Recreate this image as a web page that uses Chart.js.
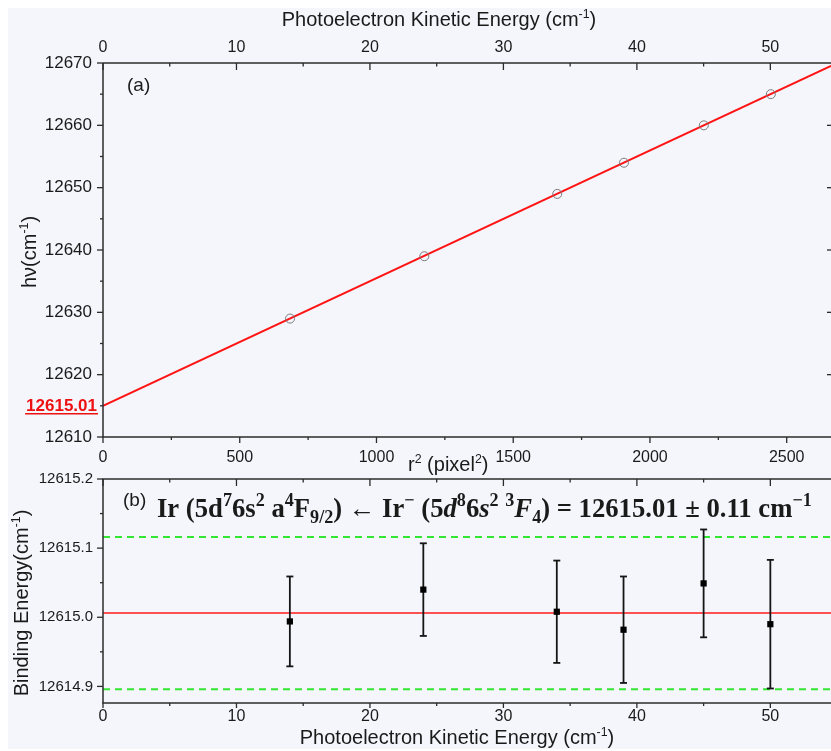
<!DOCTYPE html>
<html>
<head>
<meta charset="utf-8">
<script src="https://cdn.jsdelivr.net/npm/chart.js@4.4.1/dist/chart.umd.min.js"></script>
<style>
  html, body { margin: 0; padding: 0; background: #ffffff; }
  #page { position: absolute; left: 0; top: 0; width: 831px; height: 751px; overflow: hidden; }
  #bg { position: absolute; left: 8px; top: 8px; width: 823px; height: 741px; background: #f5f6fc; }
  #c1 { position: absolute; left: 0; top: 0; }
  #c2 { position: absolute; left: 0; top: 460px; }
</style>
</head>
<body>
<div id="page">
  <div id="bg"></div>
  <canvas id="c1" width="831" height="480"></canvas>
  <canvas id="c2" width="831" height="291"></canvas>
</div>
<script>
// ---- (a) photon energy versus squared ring radius ----
const r2Pixels     = [684, 1175, 1661, 1905, 2197, 2442];
const photonEnergy = [12629, 12639, 12649, 12654, 12660, 12665];
const fitR2        = [0, 2662];
const fitPhoton    = [12615.006, 12669.55];
const keSlope      = 0.02049;          // cm-1 of kinetic energy per pixel^2
const r2Range      = [0, 2662];
const hvRange      = [12610, 12670];
const r2Ticks      = [0, 500, 1000, 1500, 2000, 2500];
const r2Minor      = [250, 750, 1250, 1750, 2250];
const hvTicks      = [12610, 12620, 12630, 12640, 12650, 12660, 12670];
const hvMinor      = [12615, 12625, 12635, 12645, 12655, 12665];

// ---- (b) binding energy versus photoelectron kinetic energy ----
const kineticEnergy = [14, 24, 34, 39, 45, 50];
const bindingEnergy = [12614.994, 12615.040, 12615.008, 12614.982, 12615.049, 12614.990];
const bindingError  = [0.065, 0.067, 0.074, 0.077, 0.078, 0.093];
const eaMean        = 12615.006;
const eaUnc         = 0.11;
const keRange       = [0, r2Range[1] * keSlope];
const beRange       = [12614.876, 12615.2];
const keTicks       = [0, 10, 20, 30, 40, 50];
const keMinor       = [5, 15, 25, 35, 45];
const beTicks       = [12614.9, 12615.0, 12615.1, 12615.2];
const beMinor       = [12614.95, 12615.05, 12615.15];

const SANS = "'Liberation Sans', Arial, Helvetica, sans-serif";
const SERIF = "'Liberation Serif', 'Times New Roman', 'DejaVu Serif', serif";
const INK = '#1a1a1a';
const AXIS = '#2b2b2b';

Chart.defaults.font.family = SANS;
Chart.defaults.color = INK;

// text runs with superscripts / subscripts; y is the baseline
function richText(ctx, segs, x, y, size, opt) {
  opt = opt || {};
  let cx = x;
  for (const s of segs) {
    const script = s.sup || s.sub;
    const sz = script ? size * (opt.scriptScale || 0.62) : size;
    const style = s.italic ? 'italic ' : '';
    const weight = s.weight || opt.weight || 'normal';
    ctx.font = `${style}${weight} ${sz}px ${opt.family || SANS}`;
    const dy = s.sup ? -size * 0.42 : (s.sub ? size * 0.22 : 0);
    if (opt.draw !== false) ctx.fillText(s.t, cx, y + dy);
    cx += ctx.measureText(s.t).width;
  }
  return cx - x;
}
function richCentered(ctx, segs, cx, baseline, size, opt) {
  const w = richText(ctx, segs, 0, 0, size, Object.assign({}, opt, {draw: false}));
  richText(ctx, segs, cx - w / 2, baseline, size, opt);
}
function richVertical(ctx, segs, cx, cy, size, opt) {
  const w = richText(ctx, segs, 0, 0, size, Object.assign({}, opt, {draw: false}));
  ctx.save();
  ctx.translate(cx, cy);
  ctx.rotate(-Math.PI / 2);
  richText(ctx, segs, -w / 2, size * 0.36, size, opt);
  ctx.restore();
}

// axis frame line segments and tick marks
function hLine(ctx, x0, x1, y) { ctx.beginPath(); ctx.moveTo(x0, y); ctx.lineTo(x1, y); ctx.stroke(); }
function vLine(ctx, x, y0, y1) { ctx.beginPath(); ctx.moveTo(x, y0); ctx.lineTo(x, y1); ctx.stroke(); }
function hTicks(ctx, scale, values, y, len) {
  for (const v of values) { const px = scale.getPixelForValue(v); vLine(ctx, px, y, y + len); }
}
function vTicks(ctx, scale, values, x, len) {
  for (const v of values) { const py = scale.getPixelForValue(v); hLine(ctx, x, x + len, py); }
}

const noGrid = { display: false, drawTicks: false };
const noBorder = { display: false };
const fixedTicks = values => scale => { scale.ticks = values.map(v => ({ value: v })); };

const frameA = {
  id: 'frameA',
  afterDraw(chart) {
    const { ctx, chartArea: a, scales } = chart;
    ctx.save();
    ctx.strokeStyle = AXIS;
    ctx.lineWidth = 1.5;
    hLine(ctx, a.left, a.right, a.top);
    hLine(ctx, a.left - 0.75, a.right, a.bottom);
    vLine(ctx, a.left, a.top, a.bottom);
    ctx.lineWidth = 1.3;
    hTicks(ctx, scales.x, r2Ticks, a.bottom, 6);
    hTicks(ctx, scales.x, r2Minor, a.bottom, 3);
    hTicks(ctx, scales.x2, keTicks, a.top, 7);
    hTicks(ctx, scales.x2, keMinor, a.top, 3.5);
    vTicks(ctx, scales.y, hvTicks, a.left, -6);
    vTicks(ctx, scales.y, hvMinor, a.left, -3);
    vTicks(ctx, scales.y, hvTicks.slice(1, -1), a.right, -4);

    ctx.fillStyle = INK;
    ctx.textAlign = 'left';
    ctx.textBaseline = 'alphabetic';
    richCentered(ctx, [{t: 'Photoelectron Kinetic Energy (cm'}, {t: '-1', sup: true}, {t: ')'}], 439, 26, 20);
    richText(ctx, [{t: 'r'}, {t: '2', sup: true}, {t: ' (pixel'}, {t: '2', sup: true}, {t: ')'}], 408, 471, 20);
    richVertical(ctx, [{t: 'h\u03bd(cm'}, {t: '-1', sup: true}, {t: ')'}], 29, 252, 20);
    ctx.font = `19px ${SANS}`;
    ctx.fillText('(a)', 127, 91);

    // intercept value at r^2 = 0
    const yi = scales.y.getPixelForValue(fitPhoton[0]);
    const label = eaMean.toFixed(2);
    ctx.font = `bold 17px ${SANS}`;
    ctx.fillStyle = '#ee1111';
    ctx.textAlign = 'right';
    ctx.fillText(label, 97, yi + 5);
    const w = ctx.measureText(label).width;
    ctx.strokeStyle = '#ee1111';
    ctx.lineWidth = 1.5;
    hLine(ctx, 97 - w - 1, 98, yi + 8);
    ctx.restore();
  }
};

new Chart(document.getElementById('c1'), {
  type: 'scatter',
  data: {
    datasets: [
      {
        label: 'hv',
        data: r2Pixels.map((x, i) => ({ x, y: photonEnergy[i] })),
        xAxisID: 'x', yAxisID: 'y',
        pointStyle: 'circle', pointRadius: 4.5,
        pointBorderColor: '#7a7a7a', pointBackgroundColor: 'rgba(0,0,0,0)', pointBorderWidth: 1
      },
      {
        label: 'linear fit',
        type: 'line',
        data: fitR2.map((x, i) => ({ x, y: fitPhoton[i] })),
        xAxisID: 'x', yAxisID: 'y',
        borderColor: '#ff1414', borderWidth: 2, pointRadius: 0, fill: false, tension: 0
      }
    ]
  },
  options: {
    responsive: false, animation: false, events: [],
    layout: { padding: 0, autoPadding: false },
    plugins: { legend: { display: false }, tooltip: { enabled: false } },
    scales: {
      x: {
        type: 'linear', position: 'bottom', min: r2Range[0], max: r2Range[1],
        grid: noGrid, border: noBorder,
        ticks: { padding: 11, font: { size: 16 }, color: INK, callback: v => String(v) },
        afterBuildTicks: fixedTicks(r2Ticks),
        afterFit: s => { s.height = 43; }
      },
      x2: {
        type: 'linear', position: 'top', min: keRange[0], max: keRange[1],
        grid: noGrid, border: noBorder,
        ticks: { padding: 6, font: { size: 16 }, color: INK, callback: v => String(v) },
        afterBuildTicks: fixedTicks(keTicks),
        afterFit: s => { s.height = 63; }
      },
      y: {
        type: 'linear', position: 'left', min: hvRange[0], max: hvRange[1],
        grid: noGrid, border: noBorder,
        ticks: { padding: 11, font: { size: 17 }, color: INK, callback: v => String(v) },
        afterBuildTicks: fixedTicks(hvTicks),
        afterFit: s => { s.width = 103; }
      }
    }
  },
  plugins: [frameA]
});

// error bars are painted right after the mean line, below the markers
const errorBars = {
  id: 'errorBars',
  afterDatasetDraw(chart, args) {
    if (args.index !== 1) return;
    const { ctx, scales } = chart;
    ctx.save();
    ctx.strokeStyle = '#151515';
    ctx.lineWidth = 1.8;
    kineticEnergy.forEach((ke, i) => {
      const x = scales.x.getPixelForValue(ke);
      const yTop = scales.y.getPixelForValue(bindingEnergy[i] + bindingError[i]);
      const yBot = scales.y.getPixelForValue(bindingEnergy[i] - bindingError[i]);
      vLine(ctx, x, yTop, yBot);
      hLine(ctx, x - 3.5, x + 3.5, yTop);
      hLine(ctx, x - 3.5, x + 3.5, yBot);
    });
    ctx.restore();
  }
};

const frameB = {
  id: 'frameB',
  afterDraw(chart) {
    const { ctx, chartArea: a, scales } = chart;
    ctx.save();
    ctx.strokeStyle = AXIS;
    ctx.lineWidth = 1.5;
    hLine(ctx, a.left - 0.75, a.right, a.top);
    hLine(ctx, a.left - 0.75, a.right, a.bottom);
    vLine(ctx, a.left, a.top, a.bottom);
    ctx.lineWidth = 1.3;
    hTicks(ctx, scales.x, keTicks, a.bottom, 5);
    hTicks(ctx, scales.x, keMinor, a.bottom, 3);
    hTicks(ctx, scales.x, keTicks, a.top, 7);
    hTicks(ctx, scales.x, keMinor, a.top, 3.5);
    vTicks(ctx, scales.y, beTicks, a.left, -6);
    vTicks(ctx, scales.y, beMinor, a.left, -3);

    ctx.fillStyle = INK;
    ctx.textAlign = 'left';
    ctx.textBaseline = 'alphabetic';
    richCentered(ctx, [{t: 'Photoelectron Kinetic Energy (cm'}, {t: '-1', sup: true}, {t: ')'}], 457, 284, 20);
    richVertical(ctx, [{t: 'Binding Energy(cm'}, {t: '-1', sup: true}, {t: ')'}], 21, 143, 20);
    ctx.font = `19px ${SANS}`;
    ctx.fillText('(b)', 123, 46);

    // result line: Ir(5d7 6s2 a4F9/2) <- Ir-(5d8 6s2 3F4)
    const formula = [
      {t: 'Ir '}, {t: '('},
      {t: '5d'}, {t: '7', sup: true}, {t: '6s'}, {t: '2', sup: true},
      {t: ' a'}, {t: '4', sup: true}, {t: 'F'}, {t: '9/2', sub: true}, {t: ')'},
      {t: ' \u2190 ', weight: 'normal'},
      {t: 'Ir'}, {t: '\u2212', sup: true}, {t: ' ('},
      {t: '5'}, {t: 'd', italic: true}, {t: '8', sup: true},
      {t: '6'}, {t: 's', italic: true}, {t: '2', sup: true},
      {t: ' '}, {t: '3', sup: true}, {t: 'F', italic: true}, {t: '4', sub: true}, {t: ')'},
      {t: ' = ' + eaMean.toFixed(2) + ' \u00b1 ' + eaUnc.toFixed(2) + ' cm'}, {t: '\u22121', sup: true}
    ];
    const fopt = { family: SERIF, weight: 'bold', scriptScale: 0.68 };
    const w20 = richText(ctx, formula, 0, 0, 20, Object.assign({}, fopt, {draw: false}));
    const size = 20 * 655 / w20;
    richText(ctx, formula, 157, 57, size, fopt);
    ctx.restore();
  }
};

const lineAt = y => keRange.map(x => ({ x, y }));

new Chart(document.getElementById('c2'), {
  type: 'scatter',
  data: {
    datasets: [
      {
        label: 'binding energy',
        data: kineticEnergy.map((x, i) => ({ x, y: bindingEnergy[i] })),
        pointStyle: 'rect', pointRadius: 4.4,
        pointBackgroundColor: '#000000', pointBorderColor: '#000000', pointBorderWidth: 0
      },
      {
        label: 'mean', type: 'line', data: lineAt(eaMean),
        borderColor: '#ff1a1a', borderWidth: 1.5, pointRadius: 0, fill: false
      },
      {
        label: 'upper bound', type: 'line', data: lineAt(eaMean + eaUnc),
        borderColor: '#33e633', borderWidth: 2, borderDash: [7, 5], pointRadius: 0, fill: false
      },
      {
        label: 'lower bound', type: 'line', data: lineAt(eaMean - eaUnc),
        borderColor: '#33e633', borderWidth: 2, borderDash: [7, 5], pointRadius: 0, fill: false
      }
    ]
  },
  options: {
    responsive: false, animation: false, events: [],
    layout: { padding: { top: 17, left: 0, right: 0, bottom: 0 }, autoPadding: false },
    plugins: { legend: { display: false }, tooltip: { enabled: false } },
    scales: {
      x: {
        type: 'linear', position: 'bottom', min: keRange[0], max: keRange[1],
        grid: noGrid, border: noBorder,
        ticks: { padding: 4, font: { size: 16 }, color: INK, callback: v => String(v) },
        afterBuildTicks: fixedTicks(keTicks),
        afterFit: s => { s.height = 48; }
      },
      y: {
        type: 'linear', position: 'left', min: beRange[0], max: beRange[1],
        grid: noGrid, border: noBorder,
        ticks: { padding: 10, font: { size: 15 }, color: INK, callback: v => v.toFixed(1) },
        afterBuildTicks: fixedTicks(beTicks),
        afterFit: s => { s.width = 103; }
      }
    }
  },
  plugins: [errorBars, frameB]
});
</script>
</body>
</html>
